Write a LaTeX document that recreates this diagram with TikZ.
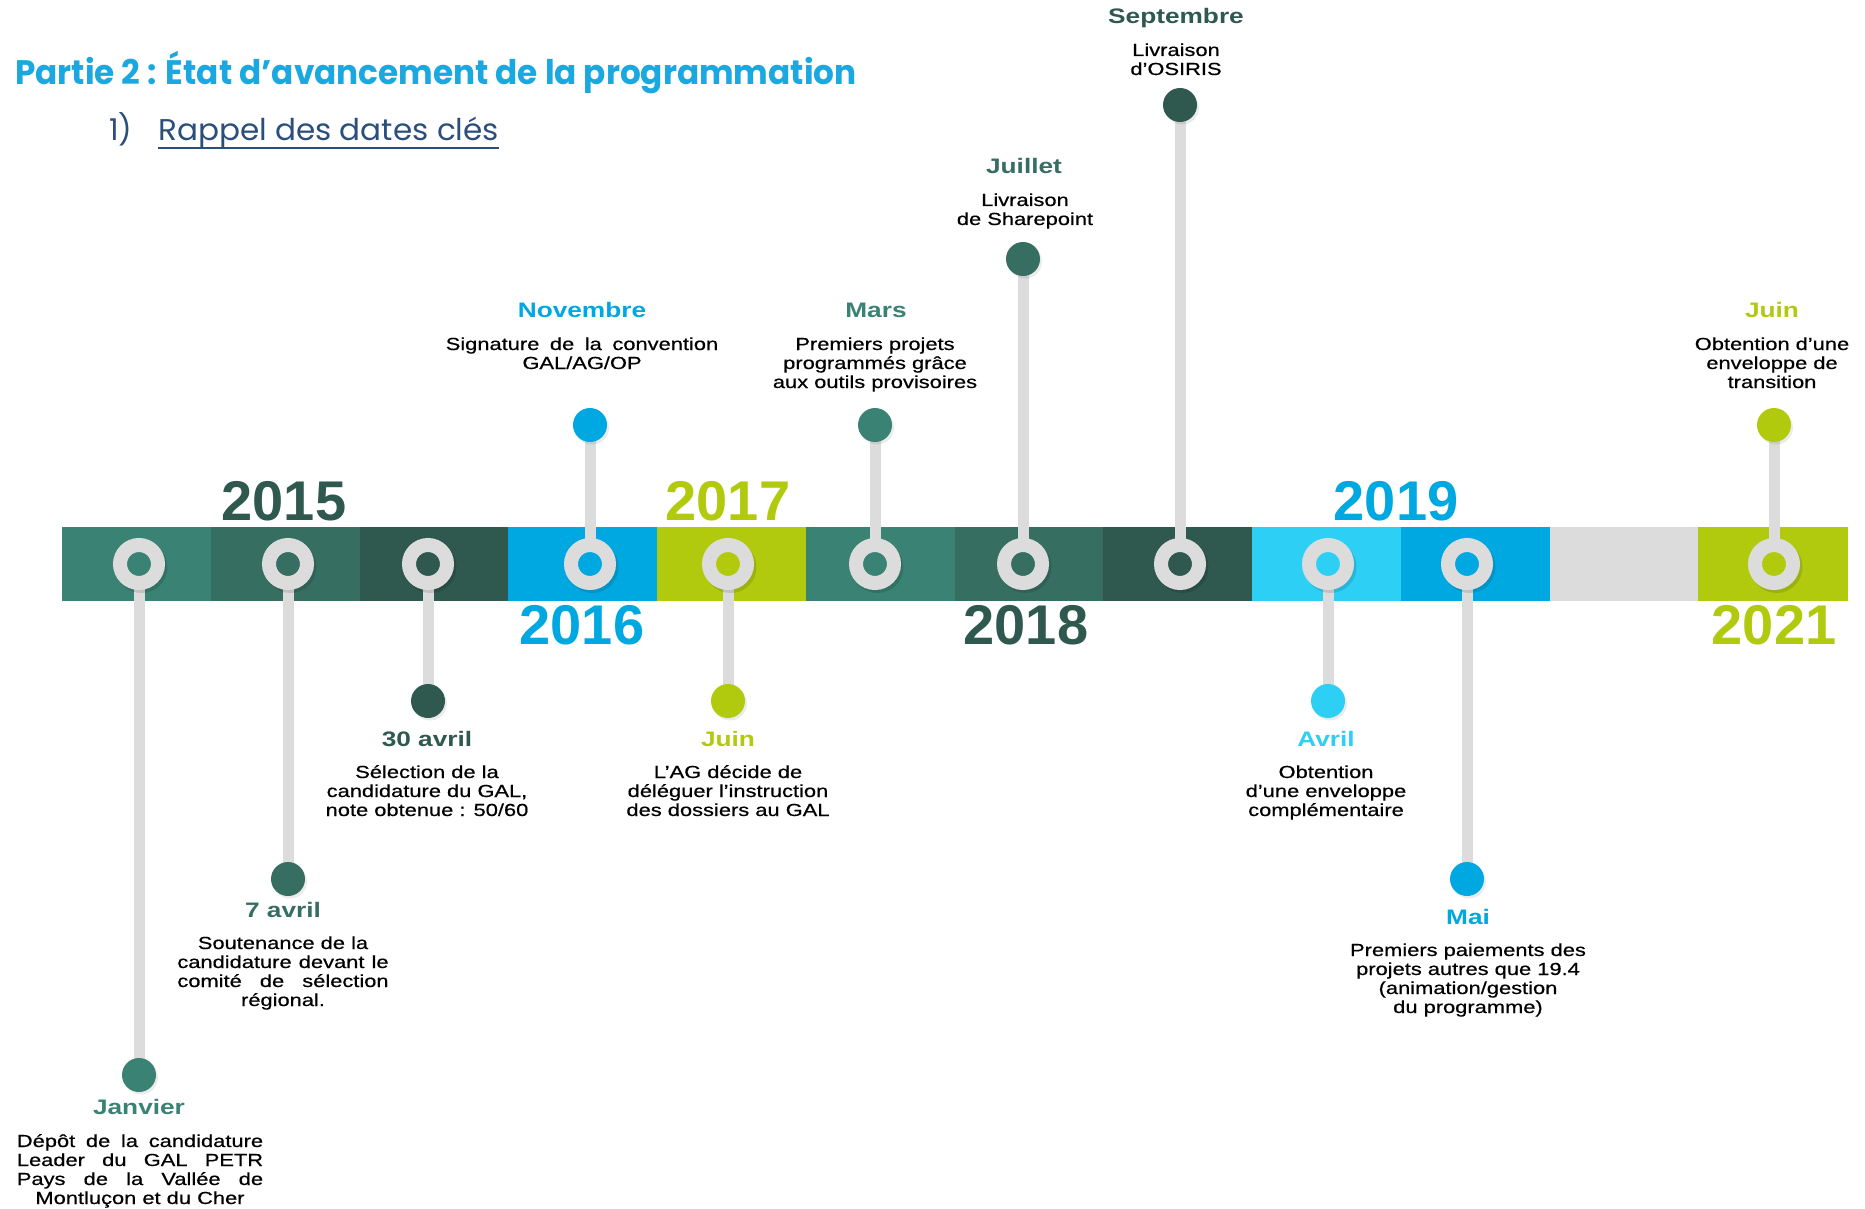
\documentclass[tikz,border=0pt]{standalone}
\usepackage{fontspec}
\setmainfont{Liberation Sans}
\newfontfamily\gothic{Poppins}
\newfontfamily\descfont[FakeBold=0.5]{Liberation Sans}
\usetikzlibrary{calc}

\definecolor{tealA}{HTML}{3A8274}
\definecolor{tealB}{HTML}{366F62}
\definecolor{tealC}{HTML}{2F584F}
\definecolor{blueA}{HTML}{00A8E1}
\definecolor{blueB}{HTML}{2ECFF5}
\definecolor{limeA}{HTML}{B1CA0E}
\definecolor{greyA}{HTML}{DCDCDC}
\definecolor{titleblue}{HTML}{1BA8E0}
\definecolor{subblue}{HTML}{2B4E7C}

\pgfdeclarelayer{bar}
\pgfdeclarelayer{stem}
\pgfsetlayers{bar,stem,main}

% widened text blocks
\newcommand\evdesc[2]{\scalebox{1.25}[1]{\parbox[t]{#1pt}{\centering #2}}}
\newcommand\spread[1]{\makebox[\linewidth][s]{#1}}
\newcommand\wide[1]{\scalebox{1.25}[1]{#1}}

\tikzset{
  ring/.style={circle, inner sep=0pt, minimum size=38pt, draw=greyA, line width=14pt},
  dot/.style={circle, inner sep=0pt, minimum size=34pt},
  stem/.style={greyA, line width=11pt},
  monthlbl/.style={anchor=base, inner sep=0pt, font=\bfseries\fontsize{21}{24}\selectfont},
  desc/.style={anchor=base, inner sep=0pt, font=\descfont\fontsize{17.5}{19}\selectfont},
  yearlbl/.style={anchor=base, inner sep=0pt, font=\bfseries\fontsize{56}{60}\selectfont},
}

\begin{document}
\begin{tikzpicture}[x=1pt,y=-1pt]

  \useasboundingbox (0,0) rectangle (1865,1209);

  % Heading

  \node[anchor=base west, inner sep=0pt, text=titleblue,
        font=\gothic\bfseries\fontsize{34}{40}\selectfont] (title) at (15,85)
        {\scalebox{0.962}[1]{Partie 2 : État d’avancement de la programmation}};
  \node[anchor=base west, inner sep=0pt, text=subblue,
        font=\gothic\fontsize{30}{34}\selectfont] (num) at (109,141) {1)};
  \node[anchor=base west, inner sep=0pt, text=subblue,
        font=\gothic\fontsize{30}{34}\selectfont] (sub) at (158,141)
        {\scalebox{1.035}[1]{Rappel des dates clés}};
  \draw[subblue, line width=2pt] (sub.base west) ++(0,7) -- ($(sub.base east)+(0,7)$);

  % Bar

  \begin{pgfonlayer}{bar}
    \foreach \c [count=\i] in {tealA,tealB,tealC,blueA,limeA,tealA,tealB,tealC,blueB,blueA,greyA,limeA}
      \fill[\c] ({62+(\i-1)*148.75},527) rectangle ++(149.5,74);
  \end{pgfonlayer}

  % Rings

  \foreach \n/\x/\c in {1/139/tealA, 2/288/tealB, 3/428/tealC, 4/590/blueA,
                        5/728/limeA, 6/875/tealA, 7/1023/tealB, 8/1180/tealC,
                        9/1328/blueB, 10/1467/blueA, 11/1774/limeA}
    \node[ring, fill=\c] (r\n) at (\x,564) {};

  % Dots

  \foreach \n/\x/\y/\c in {1/139/1075/tealA, 2/288/879/tealB, 3/428/701/tealC,
                           4/590/425/blueA, 5/728/701/limeA, 6/875/425/tealA,
                           7/1023/259/tealB, 8/1180/105/tealC, 9/1328/701/blueB,
                           10/1467/879/blueA, 11/1774/425/limeA}
    \node[dot, fill=\c] (d\n) at (\x,\y) {};

  % Stems and shadows

  \begin{pgfonlayer}{stem}
    \foreach \n in {1,...,11} {
      \draw[stem] (r\n.center) -- (d\n.center);
      \fill[black, opacity=.12] ($(r\n)+(2.5,3)$) circle (26pt);
      \fill[black, opacity=.08] ($(d\n)+(2,2.5)$) circle (17pt);
    }
  \end{pgfonlayer}

  % Years

  \node[yearlbl, text=tealC] (y15) at (284,520) {2015};
  \node[yearlbl, text=blueA] (y16) at (582,644) {2016};
  \node[yearlbl, text=limeA] (y17) at (728,520) {2017};
  \node[yearlbl, text=tealC] (y18) at (1026,644) {2018};
  \node[yearlbl, text=blueA] (y19) at (1396,520) {2019};
  \node[yearlbl, text=limeA] (y21) at (1774,644) {2021};

  % Months

  \node[monthlbl, text=tealA] (m1) at (139,1114) {\wide{Janvier}};
  \node[monthlbl, text=tealB] (m2) at (283,917) {\wide{7 avril}};
  \node[monthlbl, text=tealC] (m3) at (427,746) {\wide{30 avril}};
  \node[monthlbl, text=blueA] (m4) at (582,317) {\wide{Novembre}};
  \node[monthlbl, text=limeA] (m5) at (728,746) {\wide{Juin}};
  \node[monthlbl, text=tealA] (m6) at (876,317) {\wide{Mars}};
  \node[monthlbl, text=tealB] (m7) at (1024,174) {\wide{Juillet}};
  \node[monthlbl, text=tealC] (m8) at (1176,24) {\wide{Septembre}};
  \node[monthlbl, text=blueB] (m9) at (1326,746) {\wide{Avril}};
  \node[monthlbl, text=blueA] (m10) at (1468,924) {\wide{Mai}};
  \node[monthlbl, text=limeA] (m11) at (1772,317) {\wide{Juin}};

  % Texts

  \node[desc] (t1) at (140,1147) {\evdesc{197}{%
    \spread{Dépôt de la candidature}\\
    \spread{Leader du GAL PETR}\\
    \spread{Pays de la Vallée de}\\
    Montluçon et du Cher}};
  \node[desc] (t2) at (283,949) {\evdesc{169}{%
    Soutenance de la\\
    \spread{candidature devant le}\\
    \spread{comité de sélection}\\
    régional.}};
  \node[desc] (t3) at (427,778) {\evdesc{190}{%
    Sélection de la\\
    candidature du GAL,\\
    note obtenue : 50/60}};
  \node[desc] (t4) at (582,350) {\evdesc{218}{%
    \spread{Signature de la convention}\\
    GAL/AG/OP}};
  \node[desc] (t5) at (728,778) {\evdesc{200}{%
    L’AG décide de\\
    déléguer l’instruction\\
    des dossiers au GAL}};
  \node[desc] (t6) at (875,350) {\evdesc{200}{%
    Premiers projets\\
    programmés grâce\\
    aux outils provisoires}};
  \node[desc] (t7) at (1025,206) {\evdesc{160}{%
    Livraison\\
    de Sharepoint}};
  \node[desc] (t8) at (1176,56) {\evdesc{160}{%
    Livraison\\
    d’OSIRIS}};
  \node[desc] (t9) at (1326,778) {\evdesc{180}{%
    Obtention\\
    d’une enveloppe\\
    complémentaire}};
  \node[desc] (t10) at (1468,956) {\evdesc{200}{%
    Premiers paiements des\\
    projets autres que 19.4\\
    (animation/gestion\\
    du programme)}};
  \node[desc] (t11) at (1772,350) {\evdesc{160}{%
    Obtention d’une\\
    enveloppe de\\
    transition}};

\end{tikzpicture}
\end{document}
